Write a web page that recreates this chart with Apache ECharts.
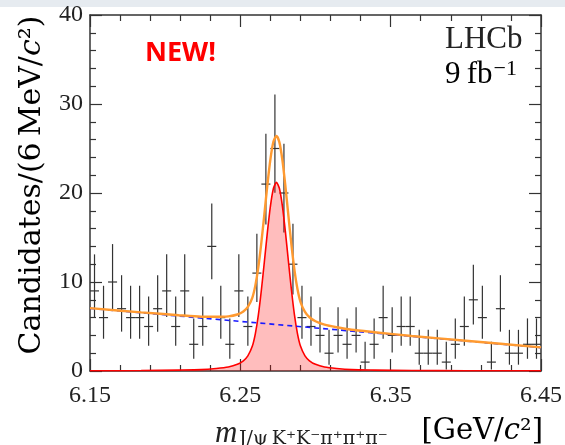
<!DOCTYPE html>
<html><head><meta charset="utf-8">
<script src="https://cdn.jsdelivr.net/npm/echarts@6/dist/echarts.min.js"></script>
<style>html,body{margin:0;padding:0;background:#fff}#c{width:565px;height:445px}</style>
</head><body><div id="c"></div>
<script>
// ---- data ----
const binLow = 6.15;           // GeV, lower edge of the histogram
const binWidth = 0.006;        // 6 MeV bins
const counts = [9,6,10,7,6,6,5,7,9,5, 9,3,5,14,6,3,9,5,11,21, 25,20,12,6,5,4,2,4,3,4, 1,3,6,4,5,5,2,2,2,1, 3,5,8,6,1,7,2,2,3,3];
const xTickLabels = [6.15, 6.25, 6.35, 6.45];
const yTickLabels = [0, 10, 20, 30, 40];
// fit components (x in GeV, candidates per 6 MeV)
const signalCurve = [[6.150,0.02],[6.184,0.05],[6.209,0.1],[6.224,0.15],[6.234,0.28],[6.242,0.45],[6.248,0.75],[6.252,1.15],[6.255,1.7],[6.258,2.8],[6.260,4.2],[6.262,6.3],[6.264,9.1],[6.266,12.3],[6.268,15.6],[6.270,18.5],[6.272,20.5],[6.274,21.2],[6.276,20.5],[6.278,18.5],[6.280,15.6],[6.282,12.3],[6.284,9.1],[6.286,6.3],[6.288,4.2],[6.290,2.8],[6.293,1.7],[6.296,1.15],[6.300,0.75],[6.306,0.45],[6.314,0.28],[6.324,0.15],[6.339,0.1],[6.364,0.05],[6.400,0.03],[6.450,0.02]];
const backgroundCurve = [[6.150,7.04],[6.300,4.84],[6.450,2.63]];
const totalCurve = [[6.150,7.06],[6.184,6.59],[6.209,6.27],[6.224,6.10],[6.234,6.09],[6.242,6.14],[6.248,6.35],[6.252,6.69],[6.255,7.20],[6.258,8.25],[6.260,9.62],[6.262,11.69],[6.264,14.46],[6.266,17.63],[6.268,20.91],[6.270,23.78],[6.272,25.75],[6.274,26.42],[6.276,25.69],[6.278,23.66],[6.280,20.73],[6.282,17.40],[6.284,14.17],[6.286,11.34],[6.288,9.21],[6.290,7.78],[6.293,6.64],[6.296,6.04],[6.300,5.59],[6.306,5.20],[6.314,4.91],[6.324,4.63],[6.339,4.36],[6.364,3.94],[6.400,3.40],[6.450,2.65]];

// Poisson (Garwood-like) 68% interval for a count, as used for the error bars
function poissonInterval(n){
  const lo = n === 0 ? 0 : n * Math.pow(1 - 1/(9*n) - 1/(3*Math.sqrt(n)), 3);
  const m = n + 1;
  const hi = m * Math.pow(1 - 1/(9*m) + 1/(3*Math.sqrt(m)), 3);
  return [lo, hi];
}
const points = counts.map((n, i) => {
  const [lo, hi] = poissonInterval(n);
  return [binLow + binWidth * (i + 0.5), n, lo, hi];
});

const serif = '"Liberation Serif", "DejaVu Serif", serif';
const wideSerif = '"DejaVu Serif", serif';
const axisCol = '#333';
const txt = '#222';
const chart = echarts.init(document.getElementById('c'), null, {renderer: 'canvas'});

function xAxisCfg(pos, labels){
  return {
    type: 'value', position: pos, min: xTickLabels[0], max: xTickLabels[xTickLabels.length-1], interval: 0.1,
    axisLine: {show: true, onZero: false, lineStyle: {color: axisCol, width: 1.5}},
    axisTick: {show: true, inside: true, length: 12, lineStyle: {color: axisCol, width: 1.2}},
    minorTick: {show: true, splitNumber: 5, length: 6, lineStyle: {color: axisCol, width: 1.2}},
    splitLine: {show: false},
    axisLabel: {show: labels, formatter: v => v.toFixed(2), fontFamily: serif, fontSize: 24, color: txt, margin: 13}
  };
}
function yAxisCfg(pos, labels){
  return {
    type: 'value', position: pos, min: yTickLabels[0], max: yTickLabels[yTickLabels.length-1], interval: 10,
    axisLine: {show: true, onZero: false, lineStyle: {color: axisCol, width: 1.5}},
    axisTick: {show: true, inside: true, length: 12, lineStyle: {color: axisCol, width: 1.2}},
    minorTick: {show: true, splitNumber: 5, length: 6, lineStyle: {color: axisCol, width: 1.2}},
    splitLine: {show: false},
    axisLabel: {show: labels, fontFamily: serif, fontSize: 24, color: txt, margin: 7}
  };
}

chart.setOption({
  animation: false,
  backgroundColor: '#fff',
  grid: {left: 90, right: 23, top: 15, bottom: 74, containLabel: false},
  xAxis: [xAxisCfg('bottom', true), xAxisCfg('top', false)],
  yAxis: [yAxisCfg('left', true), yAxisCfg('right', false)],
  series: [
    {
      type: 'custom', xAxisIndex: 0, yAxisIndex: 0, z: 2,
      data: points,
      encode: {x: 0, y: 1},
      renderItem: function(params, api){
        const x = api.value(0), n = api.value(1), lo = api.value(2), hi = api.value(3);
        const pc = api.coord([x, n]);
        const plo = api.coord([x, lo]);
        const phi = api.coord([x, hi]);
        const hw = api.size([binWidth, 0])[0] / 2;
        return {type: 'group', children: [
          {type: 'line', shape: {x1: pc[0], y1: phi[1], x2: pc[0], y2: plo[1]}, style: {stroke: '#333', lineWidth: 1.2}},
          {type: 'line', shape: {x1: pc[0] - hw, y1: pc[1], x2: pc[0] + hw, y2: pc[1]}, style: {stroke: '#333', lineWidth: 1.2}}
        ]};
      }
    },
    {
      type: 'line', data: signalCurve, showSymbol: false, smooth: 0.25, z: 3,
      lineStyle: {color: '#ff0000', width: 1.6},
      areaStyle: {color: 'rgba(255,0,0,0.37)'}
    },
    {
      type: 'line', data: backgroundCurve, showSymbol: false, z: 4,
      lineStyle: {color: '#1a1aff', width: 1.6, type: [5, 4]}
    },
    {
      type: 'line', data: totalCurve, showSymbol: false, smooth: 0.25, z: 5,
      lineStyle: {color: '#ff9a30', width: 2.4}
    }
  ],
  graphic: [
    {type: 'rect', shape: {x: 0, y: 0, width: 565, height: 7}, style: {fill: '#e6ebf0'}, silent: true},
    {type: 'text', x: 145, y: 53, style: {text: 'NEW!', fontFamily: '"Open Sans", sans-serif', fontWeight: 'bold', fontSize: 27, fill: '#ff0000', align: 'left', verticalAlign: 'middle'}},
    {type: 'text', x: 445, y: 40, style: {text: 'LHCb', fontFamily: serif, fontSize: 31, fill: txt, align: 'left', verticalAlign: 'middle'}},
    {type: 'text', x: 445, y: 74, style: {text: '{a|9\u2009fb}{g| }{s|\u22121}', align: 'left', verticalAlign: 'middle',
       rich: {a: {fontFamily: serif, fontSize: 31, color: txt, verticalAlign: 'bottom', lineHeight: 32},
              g: {fontFamily: serif, fontSize: 4, verticalAlign: 'top', lineHeight: 4},
              s: {fontFamily: serif, fontSize: 22, color: txt, verticalAlign: 'top', lineHeight: 20}}}},
    {type: 'text', x: 32, y: 185, rotation: Math.PI / 2,
     style: {text: '{a|Candidates/(6\u2009MeV/}{i|c}{a|\u00B2)}', align: 'center', verticalAlign: 'middle',
       rich: {a: {fontFamily: wideSerif, fontSize: 30, color: txt}, i: {fontFamily: wideSerif, fontSize: 30, fontStyle: 'italic', color: txt}}}},
    {type: 'text', x: 215, y: 434, style: {text: 'm', fontFamily: serif, fontStyle: 'italic', fontSize: 31, fill: txt, align: 'left', verticalAlign: 'middle'}},
    {type: 'text', x: 239, y: 439, style: {text: 'J/\u03C8\u2009K\u207AK\u207B\u03C0\u207A\u03C0\u207A\u03C0\u207B', fontFamily: wideSerif, fontSize: 19, fill: txt, align: 'left', verticalAlign: 'middle'}},
    {type: 'text', x: 543, y: 431, style: {text: '{a|[GeV/}{i|c}{a|\u00B2]}', align: 'right', verticalAlign: 'middle',
       rich: {a: {fontFamily: wideSerif, fontSize: 29, color: txt}, i: {fontFamily: wideSerif, fontSize: 29, fontStyle: 'italic', color: txt}}}}
  ]
});
</script>
</body></html>
